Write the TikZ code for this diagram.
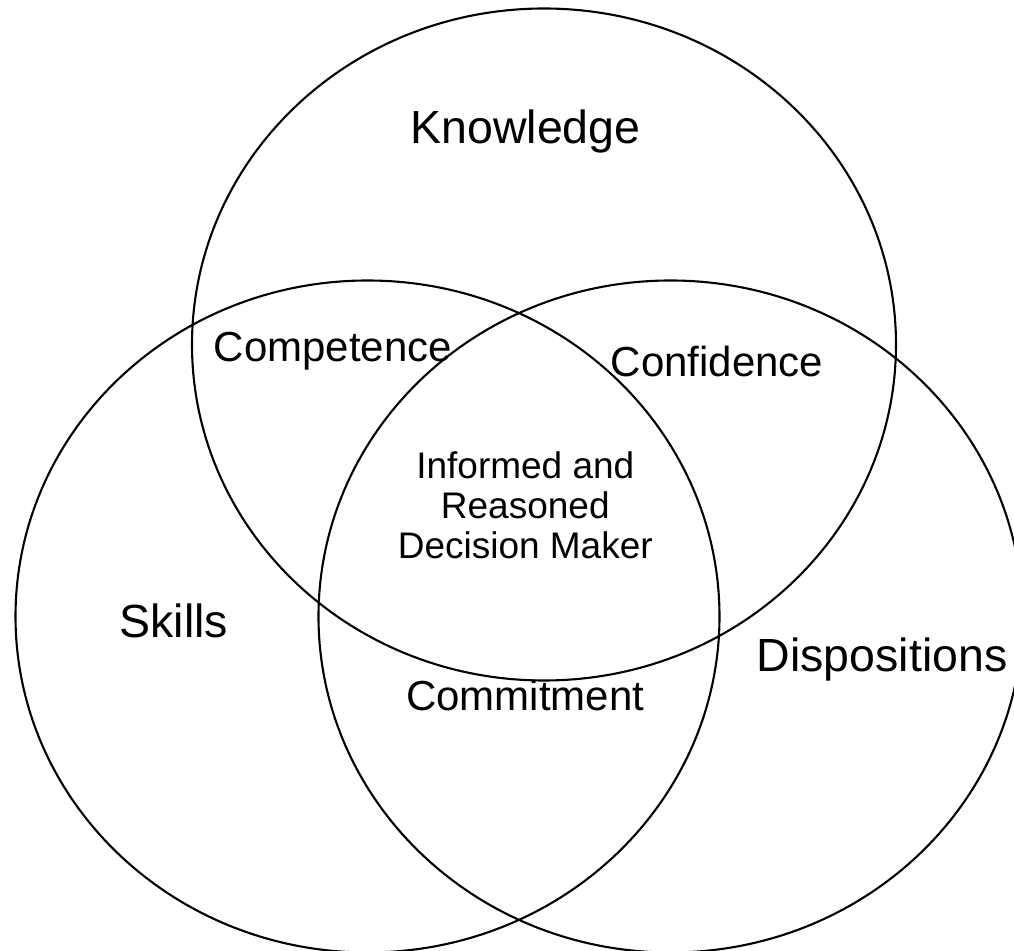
\documentclass[tikz,border=0pt]{standalone}
\usepackage{fontspec}
\setmainfont{Liberation Sans}
\begin{document}
\begin{tikzpicture}[x=0.5pt,y=-0.5pt,
  venn/.style={draw=black,line width=1.05pt},
  bigl/.style={inner sep=0pt,anchor=base,font=\fontsize{23.25}{28}\selectfont},
  midl/.style={inner sep=0pt,anchor=base,font=\fontsize{21}{25}\selectfont},
  centl/.style={inner sep=0pt,anchor=base,align=center,font=\fontsize{18.5}{20}\selectfont}]
\useasboundingbox (0,0) rectangle (1014,951);
\clip (0,0) rectangle (1014,951);
\draw[venn] (544,344.5) ellipse [x radius=176pt, y radius=168pt];
\draw[venn] (367.5,616.5) ellipse [x radius=176pt, y radius=168pt];
\draw[venn] (670.5,616.5) ellipse [x radius=176pt, y radius=168pt];
\node[bigl] (knowledge) at (525.5,143.7) {Knowledge};
\node[bigl] (skills) at (173.7,638) {Skills};
\node[bigl] (dispositions) at (882,672) {Dispositions};
\node[midl] (competence) at (333,361.5) {Competence};
\node[midl] (confidence) at (717,377) {Confidence};
\node[midl] (commitment) at (525.3,711) {Commitment};
\node[centl] (decision) at (525.3,559) {Informed and\\Reasoned\\Decision Maker};
\end{tikzpicture}
\end{document}
